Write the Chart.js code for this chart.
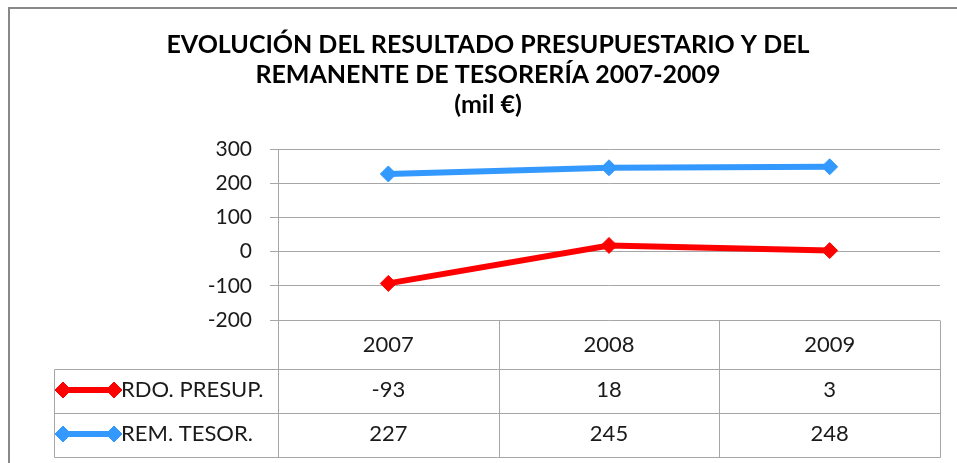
<!DOCTYPE html>
<html>
<head>
<meta charset="utf-8">
<script src="https://cdn.jsdelivr.net/npm/chart.js@4"></script>
<style>
    html, body { margin: 0; padding: 0; background: #fff; }
    #wrap { width: 957px; height: 463px; }
</style>
</head>
<body>
<div id="wrap"><canvas id="chart" width="957" height="463"></canvas></div>
<script>
// === Data ===
const years = ['2007', '2008', '2009'];
const rdoPresup = [-93, 18, 3];
const remTesor = [227, 245, 248];
const seriesNames = ['RDO. PRESUP.', 'REM. TESOR.'];
const yTicks = [-200, -100, 0, 100, 200, 300];
const titleLines = ['EVOLUCIÓN DEL RESULTADO PRESUPUESTARIO Y DEL', 'REMANENTE DE TESORERÍA 2007-2009', '(mil €)'];

const GRID = '#a6a6a6';
const FONT = 'Lato, "Open Sans", sans-serif';
const TEXT = '#1a1a1a';

// === Outer frame ===
const frame = {
    id: 'frame',
    beforeDraw(chart) {
        const ctx = chart.ctx;
        ctx.save();
        ctx.strokeStyle = '#888';
        ctx.lineWidth = 2;
        ctx.strokeRect(9, 8, chart.width + 20, chart.height + 20);
        ctx.restore();
    }
};

// === Data table under the plot (Excel style) ===
const dataTable = {
    id: 'dataTable',
    afterDraw(chart) {
        const { ctx, chartArea: area, scales: { x } } = chart;
        const half = (x.getPixelForValue(1) - x.getPixelForValue(0)) / 2;
        const rows = [area.bottom, area.bottom + 49, area.bottom + 93, area.bottom + 137];
        const keyLeft = 54;
        const px = v => Math.round(v) + 0.5;
        const line = (x1, y1, x2, y2) => {
            ctx.beginPath();
            ctx.moveTo(px(x1), px(y1));
            ctx.lineTo(px(x2), px(y2));
            ctx.stroke();
        };

        ctx.save();
        ctx.strokeStyle = GRID;
        ctx.lineWidth = 1;
        const bounds = [area.left, ...years.map((_, i) => x.getPixelForValue(i) + half)];
        rows.slice(1).forEach(y => line(keyLeft, y, area.right, y));
        bounds.forEach(bx => line(bx, rows[0], bx, rows[3]));
        line(keyLeft, rows[1], keyLeft, rows[3]);

        ctx.fillStyle = TEXT;
        ctx.font = `22px ${FONT}`;
        ctx.textBaseline = 'middle';
        ctx.textAlign = 'center';
        years.forEach((yr, i) => ctx.fillText(yr, x.getPixelForValue(i), (rows[0] + rows[1]) / 2));

        chart.data.datasets.forEach((ds, r) => {
            const cy = (rows[r + 1] + rows[r + 2]) / 2 - 1;
            ctx.fillStyle = TEXT;
            ctx.textAlign = 'center';
            ds.data.forEach((v, i) => ctx.fillText(String(v), x.getPixelForValue(i), cy));
            ctx.textAlign = 'left';
            ctx.fillText(ds.label, 121, cy);

            // legend key: line with a diamond at each end
            ctx.strokeStyle = ds.borderColor;
            ctx.lineWidth = ds.borderWidth;
            ctx.beginPath();
            ctx.moveTo(keyLeft + 9, cy);
            ctx.lineTo(keyLeft + 60, cy);
            ctx.stroke();
            ctx.fillStyle = ds.backgroundColor;
            ctx.lineWidth = 1;
            [keyLeft + 9, keyLeft + 60].forEach(kx =>
                Chart.helpers.drawPoint(ctx, { pointStyle: 'rectRot', radius: ds.pointRadius, borderWidth: 1, rotation: 0 }, kx, cy));
        });
        ctx.restore();
    }
};

new Chart(document.getElementById('chart'), {
    type: 'line',
    data: {
        labels: years,
        datasets: [
            {
                label: seriesNames[0], data: rdoPresup,
                borderColor: '#ff0000', backgroundColor: '#ff0000',
                borderWidth: 6, pointStyle: 'rectRot', pointRadius: 8, pointBorderWidth: 1, tension: 0
            },
            {
                label: seriesNames[1], data: remTesor,
                borderColor: '#3399ff', backgroundColor: '#3399ff',
                borderWidth: 6, pointStyle: 'rectRot', pointRadius: 8, pointBorderWidth: 1, tension: 0
            }
        ]
    },
    options: {
        responsive: false,
        animation: false,
        devicePixelRatio: 1,
        layout: { padding: { left: 36, right: 17, top: 0, bottom: 143 } },
        plugins: {
            legend: { display: false },
            tooltip: { enabled: false },
            title: {
                display: true,
                text: titleLines,
                color: '#000',
                font: { family: FONT, size: 25, weight: 'bold', lineHeight: 1.2 },
                padding: { top: 30, bottom: 29 }
            }
        },
        scales: {
            x: { display: false, offset: true },
            y: {
                min: -200, max: 300,
                afterBuildTicks: s => { s.ticks = yTicks.map(v => ({ value: v })); },
                afterFit: s => { s.width = 242; },
                grid: { color: GRID, tickLength: 8 },
                border: { color: GRID },
                ticks: { color: TEXT, font: { family: FONT, size: 21 }, padding: 18 }
            }
        }
    },
    plugins: [frame, dataTable]
});
</script>
</body>
</html>
